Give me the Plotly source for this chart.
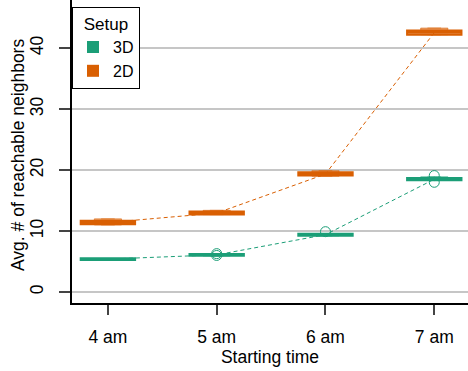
import plotly.graph_objects as go

times = ["4 am", "5 am", "6 am", "7 am"]

med_3d = [5.4, 6.1, 9.4, 18.5]
q1_3d = [5.25, 5.95, 9.25, 18.35]
q3_3d = [5.55, 6.25, 9.55, 18.7]
lo_3d = [5.2, 5.9, 9.2, 18.3]
hi_3d = [5.5, 6.3, 9.6, 18.9]

med_2d = [11.4, 12.95, 19.35, 42.55]
q1_2d = [11.1, 12.7, 19.1, 42.2]
q3_2d = [11.7, 13.2, 19.65, 42.9]
lo_2d = [11.0, 12.7, 19.0, 42.2]
hi_2d = [12.0, 13.4, 19.9, 43.3]

out_x_3d = ["5 am", "5 am", "6 am", "7 am", "7 am"]
out_y_3d = [6.3, 6.0, 9.9, 19.1, 18.0]

GREEN = "#1b9e77"
ORANGE = "#d95f02"
GREEN_L = "rgba(27,158,119,0.55)"
ORANGE_L = "rgba(217,95,2,0.55)"
FONT = "Liberation Sans, Arial, sans-serif"

fig = go.Figure()

# dashed median lines
fig.add_trace(go.Scatter(x=times, y=med_2d, mode="lines",
                         line=dict(color=ORANGE, width=1, dash="4px,3px"),
                         showlegend=False, hoverinfo="skip"))
fig.add_trace(go.Scatter(x=times, y=med_3d, mode="lines",
                         line=dict(color=GREEN, width=1, dash="4px,3px"),
                         showlegend=False, hoverinfo="skip"))

for lo, hi, col in [(lo_2d, hi_2d, ORANGE_L), (lo_3d, hi_3d, GREEN_L)]:
    fig.add_trace(go.Box(x=times, q1=lo, q3=hi,
                         median=[(a + b) / 2 for a, b in zip(lo, hi)],
                         lowerfence=lo, upperfence=hi, width=0.25,
                         fillcolor=col, line=dict(color=col, width=1),
                         showlegend=False, hoverinfo="skip"))

for q1, med, q3, col, fill in [(q1_2d, med_2d, q3_2d, ORANGE, "rgba(240,180,140,0.9)"),
                               (q1_3d, med_3d, q3_3d, GREEN, "rgba(150,215,195,0.9)")]:
    fig.add_trace(go.Box(x=times, q1=q1, median=med, q3=q3,
                         lowerfence=q1, upperfence=q3, width=0.5,
                         fillcolor=fill, line=dict(color=col, width=2),
                         showlegend=False, hoverinfo="skip"))

fig.add_trace(go.Scatter(x=out_x_3d, y=out_y_3d, mode="markers",
                         marker=dict(symbol="circle-open", size=10, color=GREEN,
                                     line=dict(width=1, color=GREEN)),
                         showlegend=False, hoverinfo="skip"))

# legend entries
fig.add_trace(go.Scatter(x=[None], y=[None], mode="markers", name="3D",
                         marker=dict(symbol="square", size=12, color=GREEN)))
fig.add_trace(go.Scatter(x=[None], y=[None], mode="markers", name="2D",
                         marker=dict(symbol="square", size=12, color=ORANGE)))

fig.update_layout(
    width=468, height=371,
    margin=dict(l=72, r=0, t=0, b=68),
    paper_bgcolor="white", plot_bgcolor="white",
    font=dict(family=FONT, size=17, color="black"),
    boxmode="overlay",
    legend=dict(x=0, y=1 - 7 / 303, xanchor="left", yanchor="top",
                bordercolor="black", borderwidth=1, bgcolor="white",
                font=dict(size=16), tracegroupgap=0,
                title=dict(text="Setup", side="top center", font=dict(size=17))),
    annotations=[dict(text="Avg. # of reachable neighbors", textangle=-90,
                      xref="paper", yref="paper", x=(18 - 72) / 396, y=(303 - 155) / 303,
                      xanchor="center", yanchor="middle", showarrow=False,
                      font=dict(size=17.5))],
)
fig.update_xaxes(
    type="category", categoryorder="array", categoryarray=times,
    range=[-0.33, 3.31], showline=True, linecolor="black", linewidth=1.5,
    ticks="outside", ticklen=10, tickcolor="#444", tickwidth=1.5,
    ticklabelstandoff=7, showgrid=False, zeroline=False,
    tickfont=dict(size=17.5),
    title=dict(text="Starting time", standoff=5, font=dict(size=17.5)),
)
fig.update_yaxes(
    range=[-1.8, 47.9], tickvals=[0, 10, 20, 30, 40], tickangle=-90,
    showline=True, linecolor="black", linewidth=1.5,
    ticks="outside", ticklen=11, tickcolor="#444", tickwidth=1.5,
    ticklabelstandoff=9, showgrid=True, gridcolor="#c6c6c6", gridwidth=1.5,
    zeroline=False, tickfont=dict(size=17.5),
)

fig.write_html("out.html")
